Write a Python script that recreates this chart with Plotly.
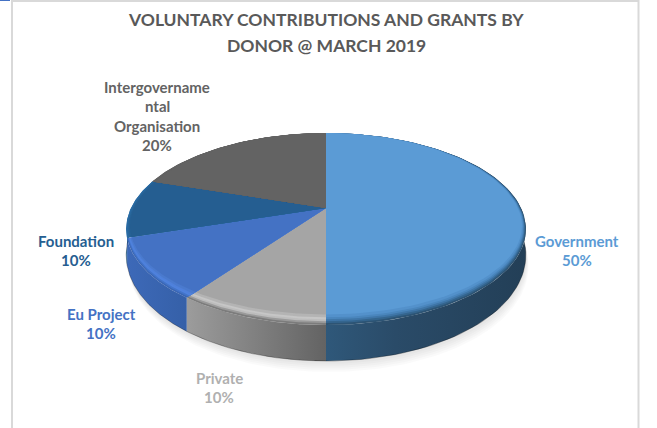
import numpy as np
import plotly.graph_objects as go

# ---- data ----
donors = ["Government", "Private", "Eu Project", "Foundation", "Intergovernmental Organisation"]
shares = [50, 10, 10, 10, 20]
title_lines = ["VOLUNTARY CONTRIBUTIONS AND GRANTS BY", "DONOR @ MARCH 2019"]
label_lines = [["Government"], ["Private"], ["Eu Project"], ["Foundation"], ["Intergovername", "ntal", "Organisation"]]

# ---- styles ----
text_col = ["#5b9bd5", "#b0b0b0", "#4472c4", "#255e91", "#636363"]
# edge ramp of the bevel, from the outer rim of the face inward
ramp = [
    ["#2d5474", "#34658e", "#3f76a8", "#4a86bd", "#5391cb", "#5b9bd5"],
    ["#7c7c7c", "#9a9a9a", "#bcbcbc", "#c6c6c6", "#b4b4b4", "#a5a5a5"],
    ["#3a66b4", "#4374c8", "#4f82de", "#4f80da", "#4a7ace", "#4472c4"],
    ["#2a6ca5", "#2a6ba3", "#29689e", "#286599", "#266195", "#255e91"],
    ["#636363", "#636363", "#636363", "#636363", "#636363", "#636363"],
]
ramp_r = [1.0, 0.99, 0.98, 0.97, 0.96, 0.945]
rim_scale = [
    [[0, "#2f587a"], [0.35, "#2a4b68"], [1, "#233f57"]],
    [[0, "#9c9c9c"], [0.6, "#7a7a7a"], [1, "#636363"]],
    [[0, "#3d69b8"], [1, "#3560a8"]],
    [[0, "#2a70a8"], [1, "#27659a"]],
    [[0, "#555555"], [1, "#4c4c4c"]],
]

# ---- perspective projection of the pie (plot units = page pixels) ----
CX, CY = 326.0, 208.0
A, B, K = 195.0, 91.4, 0.219


def project(theta):
    w = 1 + K * np.cos(theta)
    return CX + A * np.sin(theta) / w, CY - B * np.cos(theta) / w


def depth(theta):
    return 23 - 13 * np.cos(theta)


def bevel(theta, r):
    """Point on the radial line of theta where bevel ring r sits: thick in front, none behind."""
    c, s = np.cos(theta), np.sin(theta)
    g = 0.3 * s ** 2 + np.where(c < 0, 1.64 * c ** 2, 0.0)
    f = 1 - (1 - r) * g
    x, y = project(theta)
    return CX + (x - CX) * f, CY + (y - CY) * f


fig = go.Figure()


def poly(x, y, color=None, grad=None):
    kw = dict(x=list(x), y=list(y), mode="lines", line=dict(width=0), fill="toself",
              hoverinfo="skip", showlegend=False)
    if grad is not None:
        kw["fillgradient"] = grad
    else:
        kw["fillcolor"] = color
    fig.add_trace(go.Scatter(**kw))


# soft shadow under the disc
full = np.linspace(0, 2 * np.pi, 241)
for off in (11, 9, 7, 5, 3):
    sx, sy = project(full)
    poly(sx + off * 0.25, sy + depth(full) + off, "rgba(0,0,0,0.02)")

edges = np.cumsum([0] + shares) / sum(shares) * 2 * np.pi

# rim
for i in range(len(shares)):
    t = np.linspace(edges[i], edges[i + 1], 90)
    x, y = project(t)
    yb = y + depth(t)
    px = np.r_[x, x[::-1]]
    py = np.r_[y, yb[::-1]]
    # Government's rim darkens away from the centre, the others towards it
    grad = dict(type="horizontal", colorscale=rim_scale[i], start=float(px.min()), stop=float(px.max()))
    if i != 0:
        grad["colorscale"] = rim_scale[i]
    poly(px, py, grad=grad)
    fig.add_trace(go.Scatter(x=list(x), y=list(yb), mode="lines", hoverinfo="skip", showlegend=False,
                             line=dict(width=1, color="rgba(0,0,0,0.28)")))

# top faces with bevel rings
for i in range(len(shares)):
    t = np.linspace(edges[i], edges[i + 1], 90)
    for r, col in zip(ramp_r, ramp[i]):
        x, y = bevel(t, r)
        poly(np.r_[CX, x, CX], np.r_[CY, y, CY], col)

# text
notes = []


def note(txt, x, y, size, col):
    notes.append(dict(text=f"<b>{txt}</b>", x=x, y=y, xref="x", yref="y", showarrow=False,
                      font=dict(family="Lato", size=size, color=col),
                      xanchor="center", yanchor="middle"))


for txt, y in zip(title_lines, (19, 45)):
    note(txt, 326, y, 17.5, "#595959")

label_at = [(577, 241), (219, 378), (101, 314), (76, 241), (157, 87)]
for i, (lines, (lx, ly)) in enumerate(zip(label_lines, label_at)):
    for j, txt in enumerate(lines + [f"{shares[i]}%"]):
        note(txt, lx, ly + j * 19.4, 15.0, text_col[i])

fig.update_layout(
    width=657, height=428, margin=dict(l=0, r=0, t=0, b=0),
    paper_bgcolor="white", plot_bgcolor="white", showlegend=False,
    xaxis=dict(range=[0, 657], visible=False, fixedrange=True),
    yaxis=dict(range=[428, 0], visible=False, fixedrange=True),
    annotations=notes,
    shapes=[
        dict(type="rect", xref="x", yref="y", x0=12, x1=638.5, y0=1, y1=445,
             line=dict(color="#d9d9d9", width=2), layer="below"),
        dict(type="line", xref="x", yref="y", x0=0, x1=10, y0=0.5, y1=0.5,
             line=dict(color="#4472c4", width=1)),
    ],
)
fig.write_html("out.html", config={"displayModeBar": False},
               post_script="document.body.style.margin='0';document.body.style.overflow='hidden';")
